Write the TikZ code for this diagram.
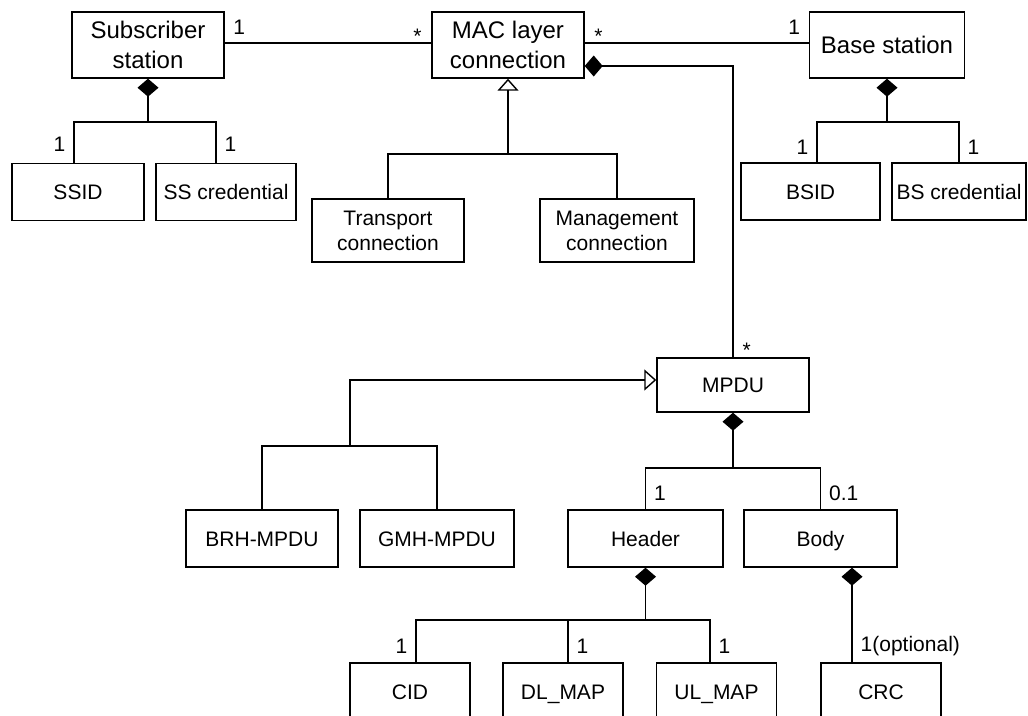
\documentclass[tikz,border=0pt]{standalone}
\usepackage{fontspec}
\setmainfont{Liberation Sans}
\usepackage{tikz}
\usetikzlibrary{arrows.meta}
\tikzstyle{cls}=[draw,line width=1.4pt,inner sep=0pt,minimum height=57pt,align=center,font=\fontsize{21}{25}\selectfont]
\tikzstyle{one}=[cls,text height=15pt,text depth=0pt]
\tikzstyle{bigcls}=[cls,minimum height=66pt,font=\fontsize{24}{30}\selectfont]
\tikzstyle{link}=[line width=1.4pt]
\tikzstyle{comp}=[link,-{Diamond[length=18pt,width=21pt]}]
\tikzstyle{gen}=[link,-{Triangle[open,length=12pt,width=21pt]}]
\tikzstyle{mult}=[font=\fontsize{21}{25}\selectfont,inner sep=8pt]
\tikzstyle{star}=[font=\fontsize{21}{25}\selectfont,inner xsep=9pt,inner ysep=0pt]

\begin{document}
\begin{tikzpicture}[x=1pt,y=-1pt]
	\useasboundingbox (0,0) rectangle (1028,715);
	\clip (0,0) rectangle (1028,715);
	% classes
	\node[bigcls,minimum width=152pt] (ss)  at (148,45)  {Subscriber\\station};
	\node[bigcls,minimum width=152pt] (mac) at (508,45)  {MAC layer\\connection};
	\node[bigcls,minimum width=155pt,text height=17pt,text depth=0pt] (bs) at (887,45) {Base station};
	\node[one,minimum width=132pt] (ssid)   at (78,192)    {SSID};
	\node[one,minimum width=140pt] (sscred) at (226,192)   {SS credential};
	\node[cls,minimum width=152pt,minimum height=63pt] (trans) at (388,230.5) {Transport\\connection};
	\node[cls,minimum width=154pt,minimum height=63pt] (mgmt)  at (617,230.5) {Management\\connection};
	\node[one,minimum width=139pt] (bsid)   at (810.5,191.5) {BSID};
	\node[one,minimum width=134pt] (bscred) at (959,191.5)   {BS credential};
	\node[one,minimum width=152pt,minimum height=54pt] (mpdu) at (733,385) {MPDU};
	\node[one,minimum width=152pt] (brh)  at (262,538.5)   {BRH-MPDU};
	\node[one,minimum width=154pt] (gmh)  at (437,538.5)   {GMH-MPDU};
	\node[one,minimum width=155pt] (hdr)  at (645.5,538.5) {Header};
	\node[one,minimum width=153pt] (body) at (820.5,538.5) {Body};
	\node[one,minimum width=120pt] (cid)   at (410,691.5)   {CID};
	\node[one,minimum width=120pt] (dlmap) at (563,691.5)   {DL\_MAP};
	\node[one,minimum width=120pt] (ulmap) at (716.5,691.5) {UL\_MAP};
	\node[one,minimum width=120pt] (crc)   at (881,691.5)   {CRC};
	% junctions
	\coordinate (ssj)  at (148,122);
	\coordinate (bj)   at (887,122);
	\coordinate (macj) at (508,154);
	\coordinate (mpj)  at (350,446);
	\coordinate (mpdj) at (733,468);
	\coordinate (hj)   at (645.5,620);
	\coordinate (dlt)  at ([xshift=5pt]dlmap.north);
	\coordinate (crct) at ([xshift=-29pt]crc.north);
	% associations
	\draw[link] ([yshift=2pt]ss.east) -- node[mult,pos=0,above right]{1} node[star,pos=1,anchor=base east]{*} ([yshift=2pt]mac.west);
	\draw[link] ([yshift=2pt]mac.east) -- node[star,pos=0,anchor=base west]{*} node[mult,pos=1,above left]{1} ([yshift=2pt]bs.west);
	\draw[comp] (mpdu.north) |- node[star,pos=0,anchor=base west]{*} ([yshift=-21pt]mac.east);
	% compositions
	\draw[link] ([xshift=-4pt]ssid.north) |- node[mult,pos=0.23,left]{1} (ssj) -| node[mult,pos=0.77,right]{1} ([xshift=-10pt]sscred.north);
	\draw[comp] (ssj) -- (ss.south);
	\draw[link] ([xshift=6.5pt]bsid.north) |- node[mult,pos=0.19,left]{1} (bj) -| node[mult,pos=0.81,right]{1} (bscred.north);
	\draw[comp] (bj) -- (bs.south);
	\draw[link] (hdr.north) |- node[mult,pos=0.2,right]{1} (mpdj) -| node[mult,pos=0.8,right]{0.1} (body.north);
	\draw[comp] (mpdj) -- (mpdu.south);
	\draw[link] ([xshift=6pt]cid.north) |- node[mult,pos=0.19,left]{1} (hj) -| node[mult,pos=0.81,right]{1} ([xshift=-6.5pt]ulmap.north);
	\draw[link] (dlt) -- node[mult,pos=0.37,right]{1} (dlt |- hj);
	\draw[comp] (hj) -- (hdr.south);
	\draw[comp] (crct) -- node[mult,pos=0.17,right]{1(optional)} (crct |- body.south);
	% generalizations
	\draw[link] (trans.north) |- (macj) -| (mgmt.north);
	\draw[gen] (macj) -- (mac.south);
	\draw[link] (brh.north) |- (mpj) -| (gmh.north);
	\draw[gen] (mpj) |- ([yshift=5pt]mpdu.west);
\end{tikzpicture}
\end{document}
